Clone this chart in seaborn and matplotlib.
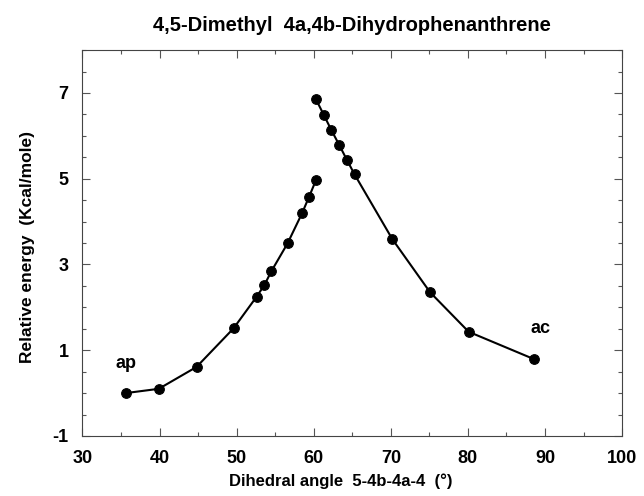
import matplotlib.pyplot as plt
import pandas as pd
import seaborn as sns
from matplotlib.ticker import MultipleLocator

sns.set_style("ticks")
plt.rcParams["font.family"] = ["Liberation Sans", "DejaVu Sans"]
plt.rcParams["font.weight"] = "bold"
plt.rcParams["text.color"] = "black"
plt.rcParams["axes.labelcolor"] = "black"
plt.rcParams["xtick.labelcolor"] = "black"
plt.rcParams["ytick.labelcolor"] = "black"
plt.rcParams["axes.unicode_minus"] = False

# ap branch (rising to ~60 deg)
ap_angle = [35.6, 39.9, 44.8, 49.6, 52.6, 53.6, 54.5, 56.6, 58.5, 59.4, 60.3]
ap_energy = [0.00, 0.10, 0.61, 1.51, 2.25, 2.52, 2.84, 3.49, 4.20, 4.58, 4.97]

# ac branch (falling from ~60 deg)
ac_angle = [60.3, 61.3, 62.3, 63.3, 64.3, 65.3, 70.2, 75.1, 80.1, 88.6]
ac_energy = [6.85, 6.49, 6.13, 5.79, 5.44, 5.10, 3.59, 2.35, 1.43, 0.79]

x_ticks = [30, 40, 50, 60, 70, 80, 90, 100]
y_ticks = [-1, 1, 3, 5, 7]

df = pd.concat([
    pd.DataFrame({"angle": ap_angle, "energy": ap_energy, "branch": "ap"}),
    pd.DataFrame({"angle": ac_angle, "energy": ac_energy, "branch": "ac"}),
])

fig = plt.figure(figsize=(6.44, 4.96), dpi=100)
ax = fig.add_axes([0.128, 0.121, 0.838, 0.778])

for name, grp in df.groupby("branch", sort=False):
    sns.lineplot(x="angle", y="energy", data=grp, ax=ax, color="black",
                 linewidth=1.5, marker="o", markersize=7, markeredgecolor="black",
                 sort=True, estimator=None, legend=False)

ax.text(35.6, 0.68, "ap", fontsize=13, fontweight="bold", ha="center", va="center")
ax.text(89.4, 1.50, "ac", fontsize=13, fontweight="bold", ha="center", va="center")

ax.set_xlim(30, 100)
ax.set_ylim(-1, 8)
ax.set_xticks(x_ticks)
ax.set_yticks(y_ticks)
ax.xaxis.set_minor_locator(MultipleLocator(5))
ax.yaxis.set_minor_locator(MultipleLocator(0.5))
ax.tick_params(which="both", direction="in", top=True, right=True, width=0.8, color="#555555")
ax.tick_params(which="major", length=6, labelsize=13, pad=10)
ax.tick_params(which="minor", length=3)
for lab in ax.get_xticklabels() + ax.get_yticklabels():
    lab.set_fontweight("bold")
for s in ax.spines.values():
    s.set_linewidth(0.8)
    s.set_color("#444444")

ax.set_xlabel("Dihedral angle  5-4b-4a-4  (°)", fontsize=12, fontweight="bold")
ax.xaxis.set_label_coords(0.478, -0.098)
ax.set_ylabel("Relative energy  (Kcal/mole)", fontsize=12.5, fontweight="bold")
ax.yaxis.set_label_coords(-0.088, 0.49)
ax.set_title("4,5-Dimethyl  4a,4b-Dihydrophenanthrene", fontsize=14.5, fontweight="bold", pad=14)

plt.savefig("out.png", dpi=100)
